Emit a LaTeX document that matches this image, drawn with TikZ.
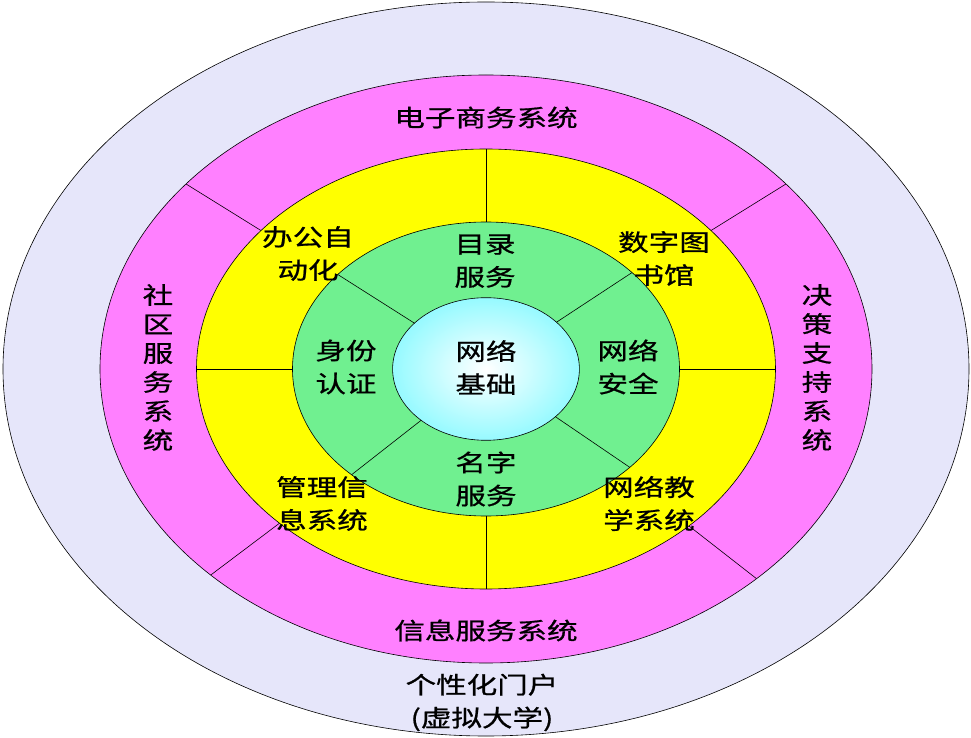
\documentclass[tikz,border=0pt]{standalone}
\usepackage{fontspec}
\setmainfont{Noto Sans CJK SC}[FakeStretch=1.3, FakeBold=0.8]
\definecolor{ringportal}{RGB}{230,230,250}
\definecolor{ringapp}{RGB}{255,128,255}
\definecolor{ringsvc}{RGB}{255,255,0}
\definecolor{ringbase}{RGB}{112,240,144}
\definecolor{corecyan}{RGB}{150,250,255}

\tikzset{
  lbl/.style={font=\fontsize{23.5}{33}\selectfont, align=center, inner sep=0pt},
  vlbl/.style={font=\fontsize{23.5}{29}\selectfont, align=center, inner sep=0pt}
}

\begin{document}
\begin{tikzpicture}[x=1pt, y=1pt, line width=0.6pt]
        \useasboundingbox (-486,-369) rectangle (485,369);

        % rings
        \draw[fill=ringportal] (0,0) ellipse (483 and 367);
        \draw[fill=ringapp] (0,0) ellipse (386 and 294);
        \draw[fill=ringsvc] (0,0) ellipse (289.5 and 220);
        \draw[fill=ringbase] (0,0) ellipse (193.5 and 147);
        \draw[inner color=white, outer color=corecyan] (0,0) ellipse (93.4 and 71.3);

        % dividers
        \foreach \a in {141, 39, 224.5, 314.5}
        \draw ({289.5*cos(\a)}, {220*sin(\a)}) -- ({386*cos(\a)}, {294*sin(\a)});
        \foreach \a in {0, 90, 180, 270}
        \draw ({193.5*cos(\a)}, {147*sin(\a)}) -- ({289.5*cos(\a)}, {220*sin(\a)});
        \foreach \a in {140, 41, 226, 318}
        \draw ({93.4*cos(\a)}, {71.3*sin(\a)}) -- ({193.5*cos(\a)}, {147*sin(\a)});

        % labels
        \node[lbl] (ecom) at (0, 251.5) {电子商务系统};
        \node[lbl] (infosvc) at (0, -261.5) {信息服务系统};
        \node[vlbl] (community) at (-328, 1.5) {社\\区\\服\\务\\系\\统};
        \node[vlbl] (decision) at (331, 1.5) {决\\策\\支\\持\\系\\统};
        \node[lbl] (portal) at (-4, -333.5) {个性化门户\\(虚拟大学)};

        \node[lbl] (office) at (-178, 115.5) {办公自\\动化};
        \node[lbl] (library) at (178, 110.5) {数字图\\书馆};
        \node[lbl] (mis) at (-164, -134.5) {管理信\\息系统};
        \node[lbl] (elearn) at (163, -134.5) {网络教\\学系统};

        \node[lbl] (directory) at (-1, 108) {目录\\服务};
        \node[lbl] (identity) at (-140, 2) {身份\\认证};
        \node[lbl] (security) at (142, 2) {网络\\安全};
        \node[lbl] (naming) at (0, -110) {名字\\服务};
        \node[lbl] (network) at (0, 1.5) {网络\\基础};

    \end{tikzpicture}
\end{document}
